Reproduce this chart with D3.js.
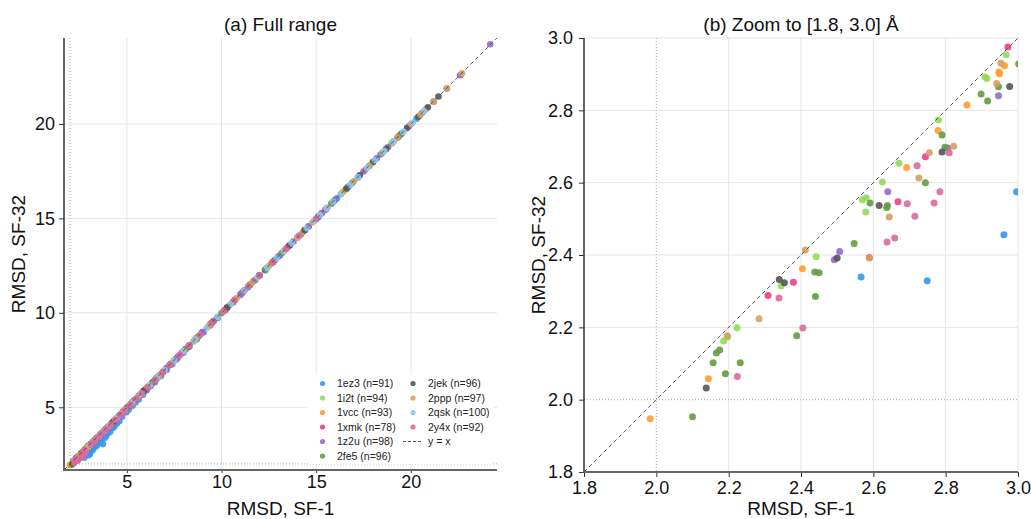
<!DOCTYPE html>
<html>
<head>
<meta charset="utf-8">
<script src="https://cdn.jsdelivr.net/npm/d3@7"></script>
<style>
  body { margin: 0; background: #fff; }
  svg { font-family: "Liberation Sans", Arial, Helvetica, sans-serif; }
</style>
</head>
<body>
<svg id="chart" width="1031" height="519"></svg>
<script>
// [RMSD SF-1, RMSD SF-32] per structure
const pts_1ez3 = [[2.566,2.339],[2.749,2.329],[2.961,2.456],[2.996,2.575],[3.05,2.53],[3.15,2.7],[3.22,2.78],[3.3,2.9],[3.41,2.97],[3.5,3.1],[3.58,3.12],[3.65,3.3],[3.74,3.05],[3.82,3.38],[3.9,3.47],[4.0,3.62],[4.12,3.71],[4.25,3.9],[4.35,3.98],[4.48,4.15],[4.6,4.27],[4.75,4.5],[4.97,4.74],[5.1,4.88],[5.3,5.08],[5.45,5.25],[5.62,5.41],[5.85,5.66],[6.05,5.9],[6.25,6.12],[6.48,6.33],[6.8,6.66],[7.1,6.98],[7.4,7.28],[7.65,7.55],[8.0,7.9],[8.3,8.2],[8.7,8.61],[9.05,8.97],[9.4,9.33],[9.8,9.73],[10.2,10.14],[10.6,10.54],[11.0,10.95],[11.4,11.35],[11.8,11.75],[12.3,12.25],[12.7,12.66],[13.1,13.05],[13.6,13.56],[14.2,14.16],[14.6,14.57],[15.0,14.96],[15.5,15.47],[16.1,16.07],[16.6,16.57],[17.2,17.17],[17.8,17.77],[18.4,18.38],[19.0,18.98],[19.5,19.48],[20.3,20.28]];
const pts_1i2t = [[2.186,2.162],[2.197,2.173],[2.223,2.199],[2.345,2.314],[2.442,2.395],[2.570,2.553],[2.580,2.558],[2.579,2.519],[2.625,2.602],[2.671,2.654],[2.780,2.773],[2.909,2.892],[2.914,2.888],[2.967,2.954],[3.15,3.12],[3.3,3.27],[3.5,3.46],[3.7,3.66],[3.95,3.9],[4.2,4.16],[4.4,4.36],[4.7,4.66],[5.0,4.95],[5.4,5.36],[5.8,5.76],[6.2,6.17],[6.6,6.57],[7.0,6.97],[7.4,7.37],[7.9,7.87],[8.5,8.47],[9.0,8.98],[9.6,9.58],[10.3,10.28],[11.0,10.97],[11.7,11.68],[12.5,12.48],[13.2,13.18],[14.0,13.98],[15.2,15.18],[16.5,16.48],[17.8,17.78],[19.0,18.98]];
const pts_1vcc = [[1.983,1.947],[2.144,2.058],[2.404,2.362],[2.692,2.642],[2.779,2.744],[2.859,2.815],[2.947,2.906],[2.949,2.901],[2.963,2.923],[3.1,3.06],[3.25,3.21],[3.4,3.35],[3.6,3.56],[3.8,3.77],[4.0,3.97],[4.2,4.16],[4.45,4.41],[4.7,4.66],[4.9,4.87],[5.05,5.02],[5.25,5.22],[5.5,5.46],[5.9,5.87],[6.3,6.27],[6.7,6.67],[7.2,7.18],[7.6,7.58],[8.1,8.07],[8.6,8.58],[9.3,9.28],[9.8,9.78],[10.4,10.38],[11.1,11.08],[11.8,11.77],[12.6,12.58],[13.4,13.38],[14.3,14.28],[15.3,15.28],[16.4,16.38],[17.6,17.58],[19.1,19.09],[20.8,20.79]];
const pts_1xmk = [[2.309,2.288],[2.379,2.325],[2.589,2.393],[2.668,2.547],[2.744,2.672],[2.972,2.975],[3.08,3.0],[3.17,3.08],[3.25,3.15],[3.35,3.27],[3.45,3.38],[3.53,3.44],[3.62,3.5],[3.73,3.64],[3.85,3.78],[3.95,3.86],[4.05,3.95],[4.16,4.09],[4.28,4.2],[4.42,4.33],[4.55,4.45],[4.67,4.6],[4.8,4.74],[4.98,4.9],[5.15,5.05],[5.3,5.23],[5.45,5.39],[5.65,5.59],[5.9,5.82],[6.1,6.04],[6.35,6.29],[6.55,6.5],[6.8,6.75],[7.05,7.0],[7.3,7.26],[7.6,7.56],[7.9,7.86],[8.25,8.21],[8.6,8.56],[9.0,8.97],[9.4,9.37],[9.8,9.77],[10.2,10.17],[10.6,10.57],[11.1,11.07],[11.5,11.48],[12.0,11.98],[12.7,12.68],[13.5,13.48],[14.4,14.38],[15.5,15.47]];
const pts_1z2u = [[2.492,2.387],[2.507,2.410],[2.640,2.575],[2.806,2.696],[2.946,2.840],[3.3,3.26],[3.6,3.57],[3.9,3.86],[4.2,4.17],[4.6,4.57],[5.0,4.97],[5.4,5.37],[5.9,5.87],[6.5,6.47],[7.1,7.08],[7.7,7.68],[8.3,8.28],[9.0,8.98],[9.6,9.58],[10.3,10.28],[11.0,10.98],[11.7,11.68],[12.3,12.28],[13.0,12.98],[13.8,13.78],[14.6,14.58],[15.3,15.28],[16.0,15.98],[16.7,16.68],[17.5,17.48],[18.2,18.18],[18.8,18.78],[19.4,19.38],[19.9,19.88],[20.6,20.59],[21.2,21.18],[21.9,21.88],[22.6,22.58],[24.19,24.22]];
const pts_2fe5 = [[2.100,1.953],[2.157,2.102],[2.166,2.129],[2.175,2.137],[2.191,2.072],[2.232,2.102],[2.388,2.177],[2.438,2.353],[2.440,2.285],[2.450,2.351],[2.547,2.432],[2.591,2.544],[2.637,2.531],[2.639,2.537],[2.744,2.600],[2.790,2.732],[2.798,2.698],[2.898,2.845],[2.916,2.826],[2.946,2.865],[3.002,2.928],[3.2,3.12],[3.4,3.33],[3.6,3.54],[3.8,3.74],[4.0,3.94],[4.25,4.19],[4.5,4.44],[4.8,4.75],[5.1,5.05],[5.4,5.36],[5.7,5.66],[6.0,5.96],[6.4,6.36],[6.9,6.86],[7.5,7.47],[8.1,8.07],[8.8,8.77],[9.4,9.38],[10.0,9.98],[10.7,10.68],[11.5,11.48],[12.3,12.28],[13.2,13.18],[14.4,14.38],[15.8,15.78],[16.9,16.88],[18.0,17.98],[19.5,19.48]];
const pts_2jek = [[2.138,2.032],[2.340,2.332],[2.354,2.323],[2.500,2.392],[2.616,2.537],[2.790,2.685],[2.977,2.866],[3.1,3.05],[3.4,3.36],[3.8,3.76],[4.3,4.26],[4.8,4.77],[5.3,5.27],[5.9,5.87],[6.6,6.58],[7.3,7.28],[8.0,7.98],[8.7,8.68],[9.5,9.48],[10.3,10.28],[11.2,11.18],[12.0,11.98],[12.8,12.78],[13.6,13.58],[14.4,14.38],[15.1,15.08],[15.9,15.88],[16.6,16.58],[17.3,17.28],[18.0,17.98],[18.7,18.68],[19.3,19.28],[19.8,19.78],[20.4,20.38],[20.9,20.88],[21.46,21.45]];
const pts_2ppp = [[2.196,2.177],[2.284,2.224],[2.412,2.414],[2.589,2.392],[2.644,2.505],[2.726,2.613],[2.755,2.683],[2.822,2.701],[2.941,2.874],[2.953,2.930],[3.2,3.17],[3.45,3.41],[3.7,3.66],[4.0,3.97],[4.4,4.37],[4.8,4.77],[5.2,5.18],[5.6,5.58],[6.1,6.08],[6.7,6.68],[7.3,7.28],[8.0,7.98],[8.7,8.68],[9.4,9.38],[10.1,10.08],[10.8,10.78],[11.6,11.58],[12.4,12.38],[13.3,13.28],[14.0,13.98],[14.8,14.78],[15.6,15.58],[16.3,16.28],[17.0,16.98],[17.8,17.78],[18.5,18.48],[19.3,19.28],[20.0,19.98],[20.5,20.48],[21.2,21.18],[21.9,21.88],[22.7,22.68]];
const pts_2qsk = [[3.05,2.98],[3.3,3.24],[3.55,3.49],[3.8,3.74],[4.1,4.05],[4.5,4.46],[4.9,4.85],[5.3,5.25],[5.75,5.71],[6.2,6.17],[6.6,6.57],[7.0,6.97],[7.5,7.47],[8.0,7.97],[8.6,8.58],[9.2,9.18],[9.8,9.78],[10.5,10.48],[11.2,11.18],[11.9,11.88],[12.4,12.38],[12.9,12.88],[13.3,13.28],[13.7,13.68],[14.1,14.08],[14.5,14.48],[14.9,14.88],[15.2,15.18],[15.55,15.53],[15.9,15.88],[16.3,16.28],[16.8,16.78],[17.2,17.18],[17.7,17.68],[18.1,18.08],[18.6,18.58],[19.1,19.08],[19.6,19.58],[20.1,20.08],[20.7,20.68]];
const pts_2y4x = [[2.224,2.064],[2.339,2.281],[2.405,2.198],[2.638,2.436],[2.659,2.447],[2.694,2.542],[2.715,2.507],[2.721,2.647],[2.768,2.544],[2.784,2.575],[2.810,2.683],[3.1,3.02],[3.3,3.21],[3.5,3.42],[3.7,3.62],[3.9,3.83],[4.15,4.07],[4.4,4.33],[4.65,4.58],[4.9,4.84],[5.2,5.14],[5.5,5.45],[5.8,5.75],[6.1,6.06],[6.5,6.46],[6.9,6.86],[7.3,7.27],[7.8,7.77],[8.3,8.27],[8.9,8.87],[9.5,9.47],[10.1,10.08],[10.7,10.68],[11.4,11.38],[12.0,11.98],[12.7,12.68],[13.4,13.38],[14.1,14.08],[15.0,14.98]];

const seriesNames = ["1ez3", "1i2t", "1vcc", "1xmk", "1z2u", "2fe5", "2jek", "2ppp", "2qsk", "2y4x"];
const seriesCounts = [91, 94, 93, 78, 98, 96, 96, 97, 100, 92];
const seriesPoints = [pts_1ez3, pts_1i2t, pts_1vcc, pts_1xmk, pts_1z2u, pts_2fe5, pts_2jek, pts_2ppp, pts_2qsk, pts_2y4x];
const seriesColors = ["#3597ee", "#90dc5a", "#ff9b32", "#ef3c8c", "#9669cd", "#649b41", "#555555", "#d7a05f", "#8cc8f0", "#dc69a0"];

const fullLims = [1.68, 24.55];
const fullTicks = [5, 10, 15, 20];
const zoomLims = [1.8, 3.0];
const zoomTicks = [1.8, 2.0, 2.2, 2.4, 2.6, 2.8, 3.0];

const svg = d3.select("#chart");

function drawPanel(opt) {
    const x = d3.scaleLinear().domain(opt.lims).range([opt.left, opt.right]);
    const y = d3.scaleLinear().domain(opt.lims).range([opt.bottom, opt.top]);
    const g = svg.append("g");

    g.append("clipPath").attr("id", opt.id)
        .append("rect")
        .attr("x", opt.left).attr("y", opt.top)
        .attr("width", opt.right - opt.left).attr("height", opt.bottom - opt.top);

    // grid
    const grid = g.append("g").attr("stroke", "#e5e5e5").attr("stroke-width", 1);
    grid.selectAll(".vx").data(opt.ticks.filter(t => t !== 2.0 && t > opt.lims[0]))
        .join("line")
        .attr("x1", d => x(d)).attr("x2", d => x(d))
        .attr("y1", opt.top).attr("y2", opt.bottom);
    grid.selectAll(".hy").data(opt.ticks.filter(t => t !== 2.0 && t > opt.lims[0]))
        .join("line")
        .attr("y1", d => y(d)).attr("y2", d => y(d))
        .attr("x1", opt.left).attr("x2", opt.right);

    // reference lines at 2.0 A
    g.append("line")
        .attr("x1", x(2)).attr("x2", x(2)).attr("y1", opt.top).attr("y2", opt.bottom)
        .attr("stroke", "#aaa").attr("stroke-width", 1).attr("stroke-dasharray", "1,2");
    g.append("line")
        .attr("y1", y(2)).attr("y2", y(2)).attr("x1", opt.left).attr("x2", opt.right)
        .attr("stroke", "#aaa").attr("stroke-width", 1).attr("stroke-dasharray", "1,2");

    const pts = g.append("g").attr("clip-path", `url(#${opt.id})`);
    seriesPoints.forEach((arr, i) => {
        pts.append("g")
            .attr("fill", seriesColors[i])
            .attr("fill-opacity", 0.9)
            .selectAll("circle")
            .data(arr)
            .join("circle")
            .attr("cx", d => x(d[0]))
            .attr("cy", d => y(d[1]))
            .attr("r", opt.r);
    });

    // y = x
    pts.append("line")
        .attr("x1", x(opt.lims[0])).attr("y1", y(opt.lims[0]))
        .attr("x2", x(opt.lims[1])).attr("y2", y(opt.lims[1]))
        .attr("stroke", "#555").attr("stroke-width", 1).attr("stroke-dasharray", "4,3");

    // axes
    const xAxis = g.append("g")
        .attr("transform", `translate(0,${opt.bottom})`)
        .call(d3.axisBottom(x).tickValues(opt.ticks).tickFormat(opt.fmt).tickSize(opt.xTick).tickPadding(opt.xPad));
    const yAxis = g.append("g")
        .attr("transform", `translate(${opt.left},0)`)
        .call(d3.axisLeft(y).tickValues(opt.ticks).tickFormat(opt.fmt).tickSize(5).tickPadding(opt.yPad));
    [xAxis, yAxis].forEach(a => {
        a.select(".domain").remove();
        a.selectAll("line").attr("stroke", "#333");
        a.selectAll("text").attr("fill", "#111").style("font-size", "18px").style("font-family", "Liberation Sans, Arial, sans-serif");
    });

    // spines
    g.append("line")
        .attr("x1", opt.left).attr("x2", opt.left).attr("y1", opt.top).attr("y2", opt.bottom)
        .attr("stroke", "#333").attr("stroke-width", 1.5);
    g.append("line")
        .attr("x1", opt.left - 1).attr("x2", opt.right).attr("y1", opt.bottom).attr("y2", opt.bottom)
        .attr("stroke", "#666").attr("stroke-width", 2);

    // labels
    g.append("text")
        .attr("x", (opt.left + opt.right) / 2).attr("y", 31)
        .attr("text-anchor", "middle").style("font-size", "19px").attr("fill", "#111")
        .text(opt.title);
    g.append("text")
        .attr("x", (opt.left + opt.right) / 2).attr("y", 515)
        .attr("text-anchor", "middle").style("font-size", "19px").attr("fill", "#111")
        .text("RMSD, SF-1");
    g.append("text")
        .attr("transform", `translate(${opt.ylabX},${(opt.top + opt.bottom) / 2}) rotate(-90)`)
        .attr("text-anchor", "middle").style("font-size", "19px").attr("fill", "#111")
        .text("RMSD, SF-32");
    return g;
}

const left = drawPanel({
    id: "clipA", lims: fullLims, ticks: fullTicks, fmt: d3.format("d"),
    left: 64, right: 497, top: 38, bottom: 470, r: 3.3,
    xTick: 3, xPad: 2, yPad: 4, ylabX: 25, title: "(a) Full range"
});

drawPanel({
    id: "clipB", lims: zoomLims, ticks: zoomTicks, fmt: d3.format(".1f"),
    left: 584, right: 1018, top: 38, bottom: 472, r: 3.5,
    xTick: 5, xPad: 4, yPad: 6, ylabX: 545, title: "(b) Zoom to [1.8, 3.0] Å"
});

// legend
const leg = left.append("g");
leg.append("rect")
    .attr("x", 308).attr("y", 375).attr("width", 185).attr("height", 89)
    .attr("fill", "#fff");
const legItems = seriesNames.map((n, i) => ({ label: `${n} (n=${seriesCounts[i]})`, color: seriesColors[i] }));
legItems.push({ label: "y = x", line: true });
legItems.forEach((d, i) => {
    const col = i < 6 ? 0 : 1;
    const row = i < 6 ? i : i - 6;
    const mx = col === 0 ? 322.5 : 413;
    const ty = 383.5 + row * 14.5;
    if (d.line) {
        leg.append("line")
            .attr("x1", 403).attr("x2", 423).attr("y1", ty).attr("y2", ty)
            .attr("stroke", "#555").attr("stroke-width", 1).attr("stroke-dasharray", "3,2");
    } else {
        leg.append("circle").attr("cx", mx).attr("cy", ty).attr("r", 2.6)
            .attr("fill", d.color).attr("fill-opacity", 0.9);
    }
    leg.append("text")
        .attr("x", col === 0 ? 337 : 428).attr("y", ty).attr("dy", "0.35em")
        .style("font-size", "10.5px").attr("fill", "#222")
        .text(d.label);
});
</script>
</body>
</html>
